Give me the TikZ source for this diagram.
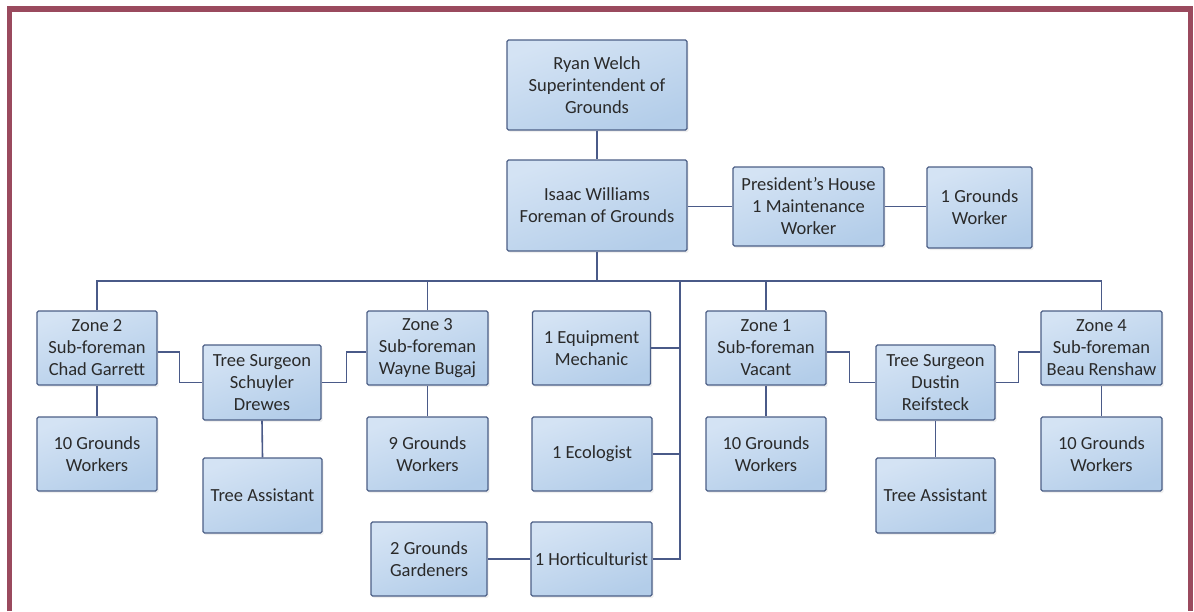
\documentclass[tikz,border=0pt]{standalone}
\usepackage{fontspec}
\setmainfont{Carlito}
\usetikzlibrary{shadows}
\definecolor{frame}{HTML}{9A4A5E}
\definecolor{boxline}{HTML}{4C5F86}
\definecolor{conn}{HTML}{4A5A88}
\definecolor{boxtop}{HTML}{D4E3F4}
\definecolor{boxbot}{HTML}{B3CDE9}
\definecolor{txt}{HTML}{2A2A2A}
\tikzset{
  orgbox/.style={rectangle, rounded corners=1.5pt, draw=boxline, line width=1.3pt,
    top color=boxtop, bottom color=boxbot, shading angle=20,
    drop shadow={opacity=0.12, shadow xshift=1.5pt, shadow yshift=-2pt},
    align=center, text=txt, inner sep=1pt,
    font=\fontsize{18.5}{22}\selectfont},
  conline/.style={draw=conn, line width=1.6pt},
}
\begin{document}
\begin{tikzpicture}[x=1pt,y=1pt]
\useasboundingbox (0,0) rectangle (1194,-611);
\fill[white] (0,0) rectangle (1194,-611);
\draw[frame, line width=5.5pt] (9.5,-611) -- (9.5,-9) -- (1190.5,-9) -- (1190.5,-611);

% nodes
\node[orgbox, minimum width=180pt, minimum height=90pt] (ryan) at (597,-85) {Ryan Welch\\Superintendent of\\Grounds};
\node[orgbox, minimum width=180pt, minimum height=91pt] (isaac) at (597,-205.5) {Isaac Williams\\Foreman of Grounds};
\node[orgbox, minimum width=151pt, minimum height=79pt] (pres) at (808.5,-206.5) {President’s House\\1 Maintenance\\Worker};
\node[orgbox, minimum width=105pt, minimum height=81pt] (gwp) at (979.5,-207.5) {1 Grounds\\Worker};

\node[orgbox, minimum width=120pt, minimum height=74pt] (zone2) at (97,-348) {Zone 2\\Sub-foreman\\Chad Garrett};
\node[orgbox, minimum width=118pt, minimum height=75pt] (ts1) at (262,-382.5) {Tree Surgeon\\Schuyler\\Drewes};
\node[orgbox, minimum width=121pt, minimum height=74pt] (zone3) at (427.5,-348) {Zone 3\\Sub-foreman\\Wayne Bugaj};
\node[orgbox, minimum width=118pt, minimum height=74pt] (mech) at (591.5,-348) {1 Equipment\\Mechanic};
\node[orgbox, minimum width=120pt, minimum height=74pt] (zone1) at (766,-348) {Zone 1\\Sub-foreman\\Vacant};
\node[orgbox, minimum width=119pt, minimum height=75pt] (ts2) at (935.5,-382.5) {Tree Surgeon\\Dustin\\Reifsteck};
\node[orgbox, minimum width=121pt, minimum height=74pt] (zone4) at (1101.5,-348) {Zone 4\\Sub-foreman\\Beau Renshaw};

\node[orgbox, minimum width=120pt, minimum height=74pt] (gw2) at (97,-454) {10 Grounds\\Workers};
\node[orgbox, minimum width=119pt, minimum height=75pt] (ta1) at (262.5,-495.5) {Tree Assistant};
\node[orgbox, minimum width=121pt, minimum height=74pt] (gw3) at (427.5,-454) {9 Grounds\\Workers};
\node[orgbox, minimum width=120pt, minimum height=74pt] (eco) at (592,-454) {1 Ecologist};
\node[orgbox, minimum width=120pt, minimum height=74pt] (gw1) at (766,-454) {10 Grounds\\Workers};
\node[orgbox, minimum width=119pt, minimum height=75pt] (ta2) at (935.5,-495.5) {Tree Assistant};
\node[orgbox, minimum width=121pt, minimum height=74pt] (gw4) at (1101.5,-454) {10 Grounds\\Workers};

\node[orgbox, minimum width=116pt, minimum height=74pt] (gard) at (429,-559) {2 Grounds\\Gardeners};
\node[orgbox, minimum width=121pt, minimum height=74pt] (hort) at (591.5,-559) {1 Horticulturist};

\coordinate (bus) at (597,-281);
\coordinate (trunk) at (680,-281);

% connectors
\draw[conline] (ryan.south) -- (isaac.north);
\draw[conline] (isaac.east |- pres.west) -- (pres.west);
\draw[conline] (pres.east) -- (pres.east -| gwp.west);
\draw[conline] (isaac.south) -- (bus);
\draw[conline] (zone2.north) |- (bus) -| (zone4.north);
\draw[conline] (zone3.north) -- (zone3.north |- bus);
\draw[conline] (zone1.north) -- (zone1.north |- bus);
\draw[conline] (trunk) |- (hort.east);
\draw[conline] (mech.east) -- (mech.east -| trunk);
\draw[conline] (eco.east) -- (eco.east -| trunk);
\draw[conline] (hort.west) -- (hort.west -| gard.east);
\draw[conline] ([yshift=-4pt]zone2.east) -- ++(22,0) |- (ts1.west);
\draw[conline] (ts1.east) -- ++(25,0) |- ([yshift=-4pt]zone3.west);
\draw[conline] ([yshift=-4pt]zone1.east) -- ++(23,0) |- (ts2.west);
\draw[conline] (ts2.east) -- ++(23,0) |- ([yshift=-4pt]zone4.west);
\draw[conline] (zone2.south) -- (gw2.north);
\draw[conline] (zone3.south) -- (gw3.north);
\draw[conline] (zone1.south) -- (gw1.north);
\draw[conline] (zone4.south) -- (gw4.north);
\draw[conline] (ts1.south) -- (ta1.north);
\draw[conline] (ts2.south) -- (ta2.north);
\end{tikzpicture}
\end{document}
